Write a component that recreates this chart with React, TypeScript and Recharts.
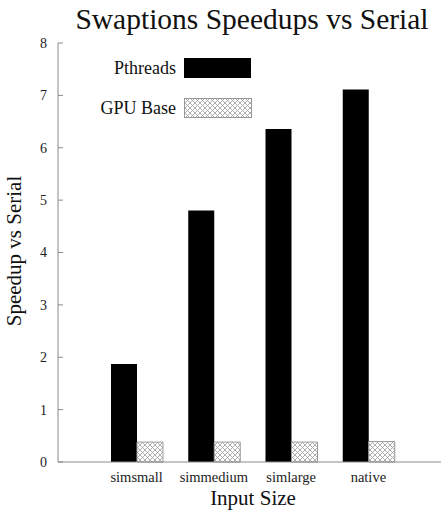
import React from "react"
import { BarChart, Bar, XAxis, YAxis } from "recharts"

const categories = ["simsmall", "simmedium", "simlarge", "native"]
const pthreads = [1.87, 4.8, 6.36, 7.11]
const gpuBase = [0.38, 0.38, 0.38, 0.39]
const yTicks = [0, 1, 2, 3, 4, 5, 6, 7, 8]

const data = categories.map((name, i) => ({ name, pthreads: pthreads[i], gpu: gpuBase[i] }))

const FONT = "'Liberation Serif', 'Times New Roman', serif"
const AXIS = "#8a8a8a"

const YTick = (props: any) => {
  const { x, y, payload } = props
  return (
    <g>
      <text x={x} y={y} dy="0.35em" textAnchor="end" fontSize={14} fill="#222" fontFamily={FONT}>
        {payload.value}
      </text>
      <line x1={x + 11} x2={x + 16} y1={y} y2={y} stroke={AXIS} />
    </g>
  )
}

const TopTick = (props: any) => {
  const { x, y } = props
  return <line x1={x} x2={x} y1={y} y2={y + 6} stroke={AXIS} />
}

const BottomTick = (props: any) => {
  const { x, y, payload } = props
  return (
    <text x={x} y={y} dy={12} textAnchor="middle" fontSize={14.5} fill="#222" fontFamily={FONT}>
      {payload.value}
    </text>
  )
}

export default function App() {
  return (
    <div style={{ position: "absolute", left: 0, top: 0, width: 441, height: 510, overflow: "hidden", background: "#fff" }}>
      <BarChart
        width={460}
        height={510}
        data={data}
        margin={{ top: 43, right: 13, left: 18, bottom: 18 }}
        barGap={0}
        barSize={26}
      >
        <defs>
          <pattern id="gpuHatch" width="5" height="5" patternUnits="userSpaceOnUse">
            <rect width="5" height="5" fill="#fff" />
            <path d="M0,0 L5,5 M5,0 L0,5" stroke="#9a9a9a" strokeWidth={0.8} />
          </pattern>
        </defs>
        <XAxis
          dataKey="name"
          padding={{ left: 40, right: 40 }}
          height={30}
          axisLine={{ stroke: AXIS }}
          tickLine={false}
          tick={<BottomTick />}
          interval={0}
        />
        <XAxis
          xAxisId="top"
          dataKey="name"
          orientation="top"
          padding={{ left: 40, right: 40 }}
          height={0}
          axisLine={{ stroke: AXIS }}
          tickLine={false}
          tickSize={0}
          tick={<TopTick />}
          interval={0}
        />
        <YAxis
          domain={[0, 8]}
          ticks={yTicks}
          width={40}
          axisLine={{ stroke: AXIS }}
          tickLine={false}
          tickSize={0}
          tickMargin={11}
          tick={<YTick />}
          interval={0}
        />
        <Bar dataKey="pthreads" name="Pthreads" fill="#000" isAnimationActive={false} />
        <Bar dataKey="gpu" name="GPU Base" fill="url(#gpuHatch)" stroke="#999" isAnimationActive={false} />
      </BarChart>
      <svg width={441} height={510} style={{ position: "absolute", left: 0, top: 0, pointerEvents: "none" }}>
        <text x={252} y={29} textAnchor="middle" fontSize={29.5} fontFamily={FONT} fill="#111">
          Swaptions Speedups vs Serial
        </text>
        <text x={253} y={505} textAnchor="middle" fontSize={21} fontFamily={FONT} fill="#111">
          Input Size
        </text>
        <text
          transform="translate(21,251) rotate(-90)"
          textAnchor="middle"
          fontSize={21}
          fontFamily={FONT}
          fill="#111"
        >
          Speedup vs Serial
        </text>
        <g transform="translate(100,58)">
          <text x={76} y={16} textAnchor="end" fontSize={18} fontFamily={FONT} fill="#111">Pthreads</text>
          <rect x={84} y={0} width={67} height={20} fill="#000" />
          <text x={76} y={56} textAnchor="end" fontSize={18} fontFamily={FONT} fill="#111">GPU Base</text>
          <rect x={84.5} y={40.5} width={67} height={19} fill="url(#gpuHatch)" stroke="#999" />
        </g>
      </svg>
    </div>
  )
}
